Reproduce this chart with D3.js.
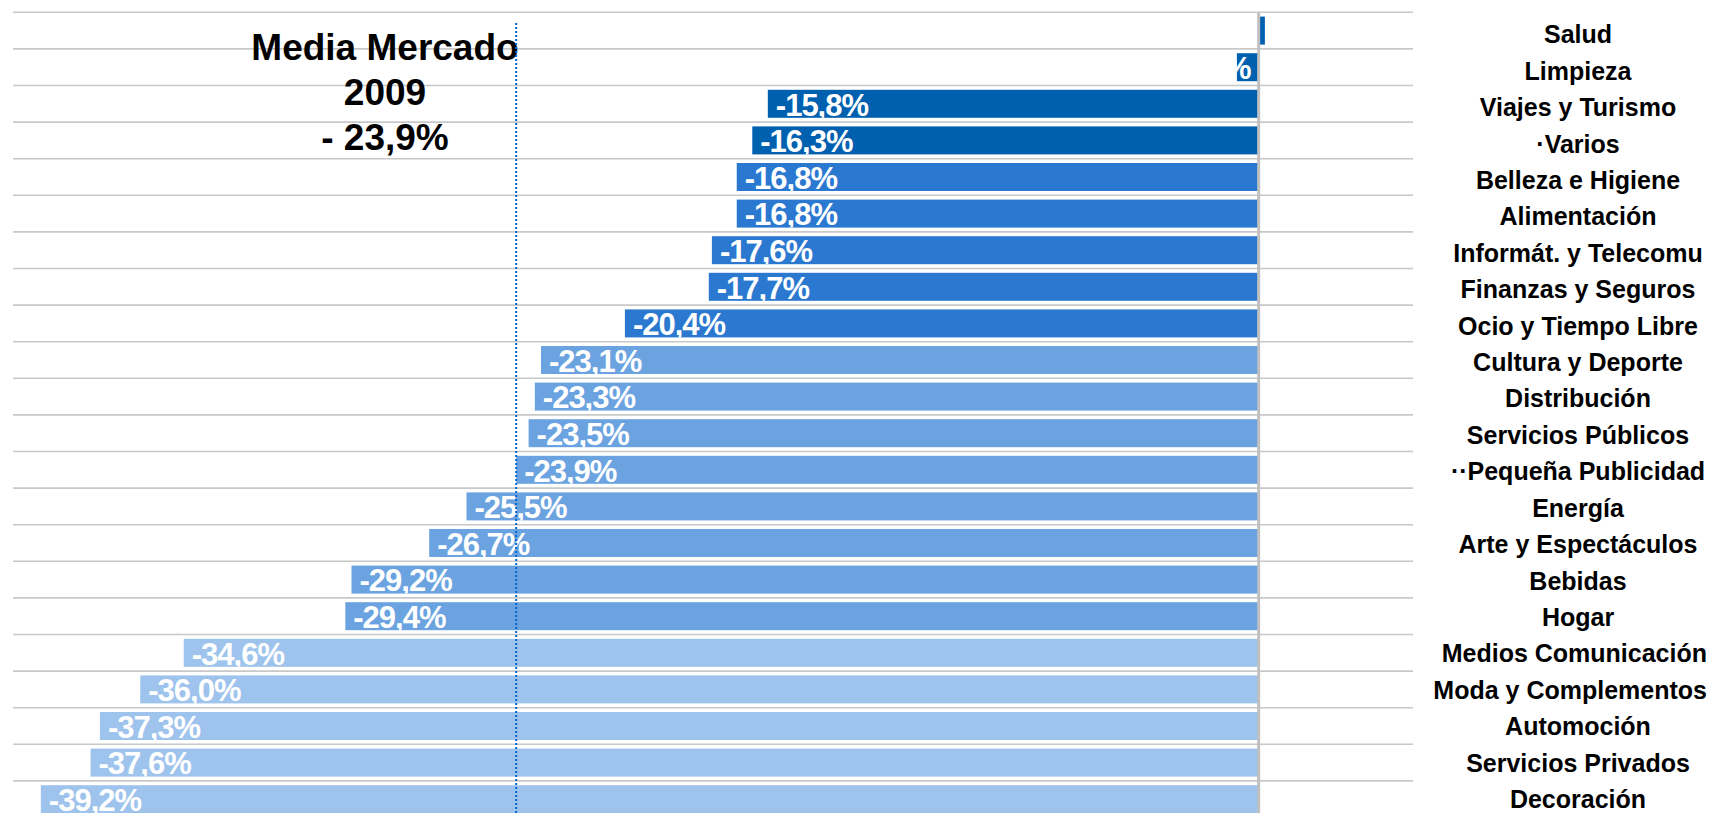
<!DOCTYPE html>
<html>
<head>
<meta charset="utf-8">
<script src="https://cdn.jsdelivr.net/npm/d3@7"></script>
<style>
    body { margin: 0; background: #fff; }
    text { font-family: "Liberation Sans", Arial, sans-serif; font-weight: bold; }
</style>
</head>
<body>
<div id="chart"></div>
<script>
// datos: variación de la inversión 2009 por sector
const sectores = ["Salud", "Limpieza", "Viajes y Turismo", "·Varios", "Belleza e Higiene", "Alimentación",
    "Informát. y Telecomu", "Finanzas y Seguros", "Ocio y Tiempo Libre", "Cultura y Deporte", "Distribución",
    "Servicios Públicos", "··Pequeña Publicidad", "Energía", "Arte y Espectáculos", "Bebidas", "Hogar",
    "Medios Comunicación", "Moda y Complementos", "Automoción", "Servicios Privados", "Decoración"];
const variacion = [0.2, -0.7, -15.8, -16.3, -16.8, -16.8, -17.6, -17.7, -20.4, -23.1, -23.3, -23.5, -23.9,
    -25.5, -26.7, -29.2, -29.4, -34.6, -36.0, -37.3, -37.6, -39.2];
const mediaMercado = -23.9;
const tituloLineas = ["Media Mercado", "2009", "- 23,9%"];
const cortesColor = [-30, -22, -16.5];

const data = sectores.map((s, i) => ({ sector: s, valor: variacion[i] }));

const width = 1717, height = 813;
const plotTop = 12.3, rowStep = 36.6;

const svg = d3.select("#chart").append("svg")
    .attr("width", width)
    .attr("height", height);

const xScale = d3.scaleLinear().domain([-40, 5]).range([16, 1414]);

const yScale = d3.scaleBand()
    .domain(sectores)
    .range([plotTop, plotTop + rowStep * sectores.length])
    .paddingInner(0.235)
    .paddingOuter(0.1175);

const labelY = d3.scalePoint().domain(sectores).range([43.3, 808]);

const color = d3.scaleThreshold()
    .domain(cortesColor)
    .range(["#9ec3ec", "#6aa3e0", "#2a78d0", "#0060b0"]);

// lineas horizontales
svg.append("g").selectAll("line")
    .data(d3.range(sectores.length + 1))
    .enter().append("line")
    .attr("x1", 13).attr("x2", 1413)
    .attr("y1", i => plotTop + i * yScale.step())
    .attr("y2", i => plotTop + i * yScale.step())
    .attr("stroke", "#c8c8c8")
    .attr("stroke-width", 1.6);

// barras
svg.append("g").selectAll("rect")
    .data(data)
    .enter().append("rect")
    .attr("x", d => xScale(Math.min(0, d.valor)))
    .attr("y", d => yScale(d.sector))
    .attr("width", d => Math.abs(xScale(d.valor) - xScale(0)))
    .attr("height", yScale.bandwidth())
    .attr("fill", d => color(d.valor));

// recortes para las etiquetas
const defs = svg.append("defs");
data.forEach((d, i) => {
    defs.append("clipPath").attr("id", "clip" + i)
        .append("rect")
        .attr("x", xScale(Math.min(0, d.valor)))
        .attr("y", yScale(d.sector))
        .attr("width", Math.abs(xScale(d.valor) - xScale(0)))
        .attr("height", yScale.bandwidth());
});

const fmt = v => v.toFixed(1).replace(".", ",") + "%";

svg.append("g").selectAll("text")
    .data(data)
    .enter().append("text")
    .attr("clip-path", (d, i) => `url(#clip${i})`)
    .attr("y", d => yScale(d.sector) + yScale.bandwidth() / 2)
    .attr("dy", "0.38em")
    .attr("fill", "#fff")
    .attr("font-size", "31px")
    .attr("letter-spacing", "-1px")
    .text(d => fmt(d.valor))
    .each(function (d) {
        const w = this.getComputedTextLength();
        const x0 = xScale(Math.min(0, d.valor));
        const barW = Math.abs(xScale(d.valor) - xScale(0));
        if (barW > w + 14) {
            d3.select(this).attr("x", x0 + 8).attr("text-anchor", "start");
        } else {
            d3.select(this).attr("x", xScale(0) - 8).attr("text-anchor", "end");
        }
    });

// eje vertical en cero
svg.append("line")
    .attr("x1", xScale(0)).attr("x2", xScale(0))
    .attr("y1", plotTop).attr("y2", height)
    .attr("stroke", "#c0c0c0")
    .attr("stroke-width", 3);

// titulo
svg.append("g").selectAll("text")
    .data(tituloLineas)
    .enter().append("text")
    .attr("x", 385)
    .attr("y", (d, i) => 60 + i * 45)
    .attr("text-anchor", "middle")
    .attr("font-size", "37px")
    .attr("fill", "#000")
    .text(d => d);

// linea de la media
svg.append("line")
    .attr("x1", xScale(mediaMercado)).attr("x2", xScale(mediaMercado))
    .attr("y1", 23).attr("y2", height)
    .attr("stroke", "#0066cc")
    .attr("stroke-width", 2)
    .attr("stroke-dasharray", "2,2");

// nombres de sector
svg.append("g").selectAll("text")
    .data(sectores)
    .enter().append("text")
    .attr("y", d => labelY(d))
    .attr("text-anchor", "middle")
    .attr("font-size", "25px")
    .attr("fill", "#000")
    .text(d => d)
    .each(function () {
        const w = this.getComputedTextLength();
        d3.select(this).attr("x", Math.min(1578, 1707 - w / 2));
    });
</script>
</body>
</html>
